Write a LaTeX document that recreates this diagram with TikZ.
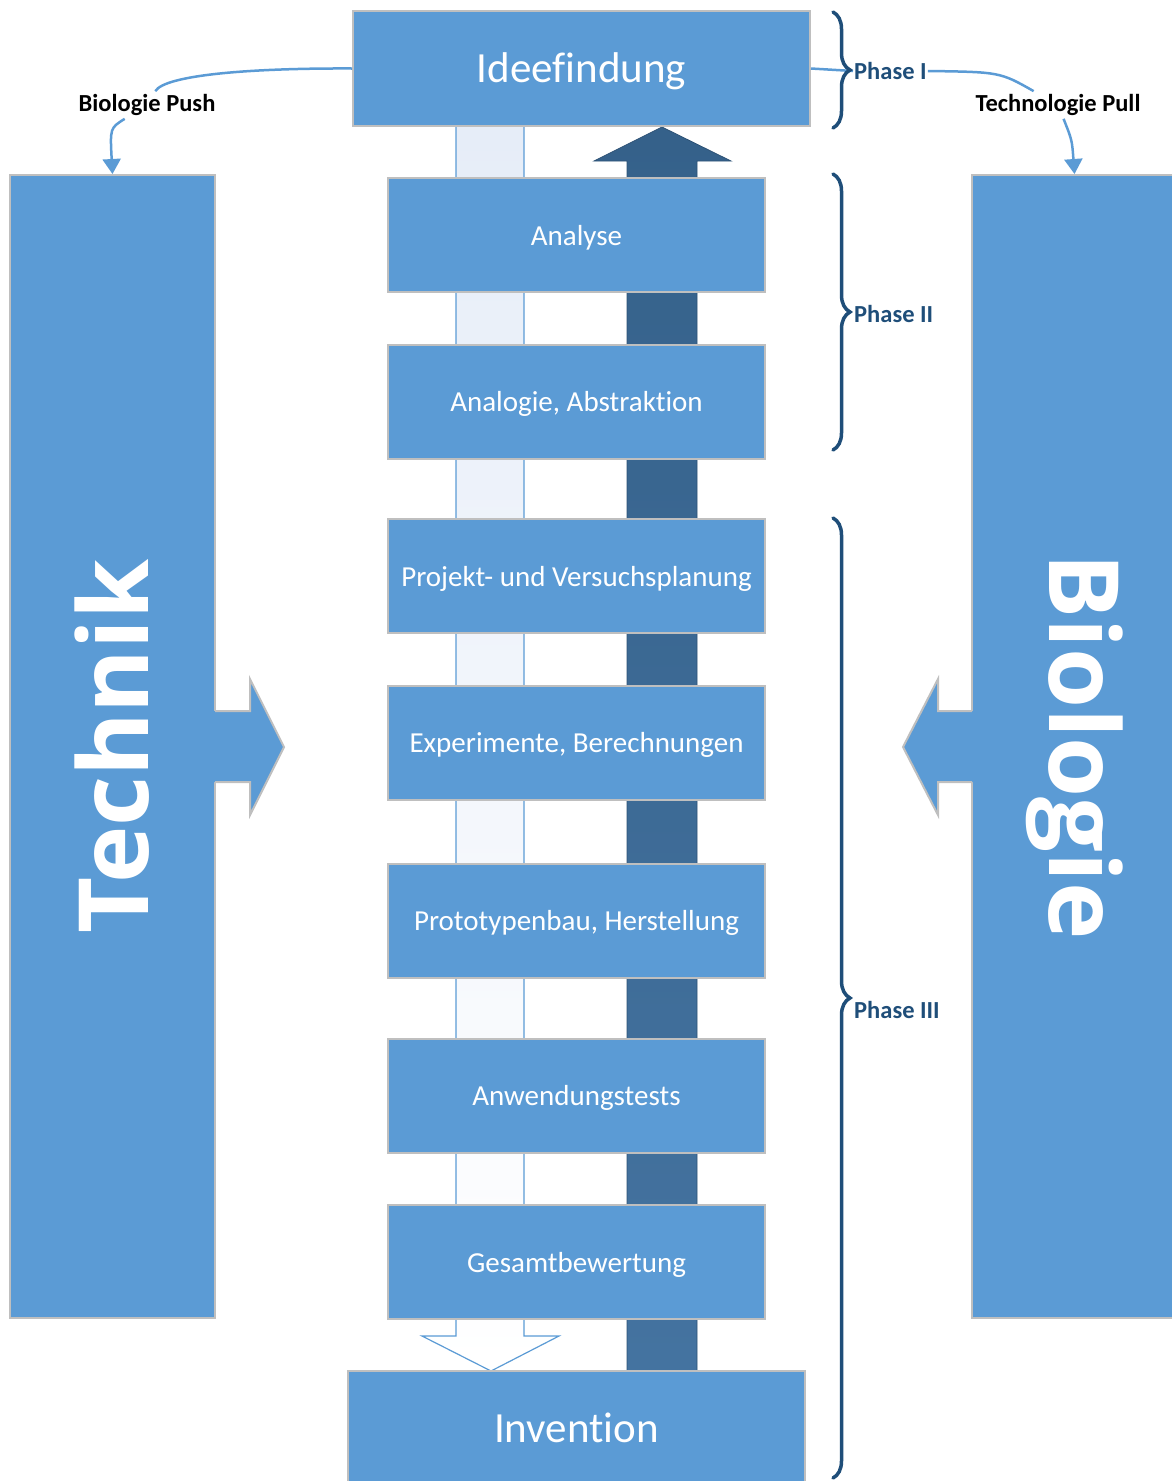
\documentclass[tikz,border=0pt]{standalone}
\usepackage{fontspec}
\setmainfont{Carlito}[Ligatures=NoCommon]
\newfontfamily\bigfont{Open Sans}
\usetikzlibrary{arrows.meta,decorations.pathreplacing}

\definecolor{boxblue}{HTML}{5B9BD5}
\definecolor{boxgray}{HTML}{BFBFBF}
\definecolor{phaseblue}{HTML}{1F4E79}
\definecolor{darktop}{HTML}{35618A}
\definecolor{darkbot}{HTML}{4473A0}
\definecolor{lighttop}{HTML}{E6EDF8}

\tikzset{
  basebox/.style={draw=boxgray,fill=boxblue,line width=2pt,text=white,inner sep=0pt},
  stepbox/.style={basebox,minimum width=377pt,minimum height=114pt,
    text height=26pt,text depth=6pt,font=\fontsize{29}{34}\selectfont},
  bigbox/.style={basebox,minimum width=457pt,minimum height=115pt,
    text height=37pt,text depth=9pt,font=\fontsize{43}{50}\selectfont},
  sidebox/.style={basebox,minimum width=205pt,minimum height=1143pt,
    font=\bigfont\bfseries\fontsize{97}{97}\selectfont},
  sidearrow/.style={fill=boxblue},
  conn/.style={draw=boxblue,line width=2.5pt},
  tip/.style={-{Triangle[width=18pt,length=15pt]}},
  pushpull/.style={font=\bfseries\fontsize{24.5}{28}\selectfont,inner sep=3pt},
  phase/.style={text=phaseblue,font=\bfseries\fontsize{24.5}{28}\selectfont,
    anchor=west,inner sep=1pt},
  phasebrace/.style={draw=phaseblue,line width=3.5pt,line cap=round,
    decorate,decoration={brace,amplitude=17pt}}
}

\begin{document}
\begin{tikzpicture}[x=1pt,y=-1pt]
  \useasboundingbox (0,0) rectangle (1172,1481);

  % the two long arrows behind the steps
  \draw[boxblue,line width=1.2pt,top color=lighttop,bottom color=white]
    (456,126) -- (456,1336) -- (422,1336) -- (491,1371) -- (559,1336)
    -- (524,1336) -- (524,126);
  \draw[darktop!85!black,line width=0.8pt,top color=darktop,bottom color=darkbot]
    (627,1371) -- (627,161) -- (594,161) -- (662,127) -- (731,161)
    -- (697,161) -- (697,1371) -- cycle;

  % steps
  \node[bigbox] (idee) at (581.5,68.5) {Ideefindung};
  \node[stepbox] (analyse) at (576.5,235) {Analyse};
  \node[stepbox] (analogie) at (576.5,401.5) {Analogie, Abstraktion};
  \node[stepbox] (planung) at (576.5,576) {Projekt- und Versuchsplanung};
  \node[stepbox] (experimente) at (576.5,742.5) {Experimente, Berechnungen};
  \node[stepbox] (prototyp) at (576.5,920.5) {Prototypenbau, Herstellung};
  \node[stepbox] (tests) at (576.5,1095.5) {Anwendungstests};
  \node[stepbox] (bewertung) at (576.5,1262) {Gesamtbewertung};
  \node[bigbox] (invention) at (576.5,1428.5) {Invention};

  % Technik and Biologie
  \node[sidebox] (technik) at (112.5,746.5) {\rotatebox{90}{Technik}};
  \node[sidebox] (biologie) at (1074.5,746.5) {\rotatebox{-90}{Biologie}};
  \fill[sidearrow] (213,711) -- (250,711) -- (250,679) -- (284,747)
    -- (250,815) -- (250,782) -- (213,782) -- cycle;
  \draw[boxgray,line width=2pt] (215,711) -- (250,711) -- (250,679)
    -- (284,747) -- (250,815) -- (250,782) -- (215,782);
  \fill[sidearrow] (974,711) -- (938,711) -- (938,679) -- (903,747)
    -- (938,815) -- (938,782) -- (974,782) -- cycle;
  \draw[boxgray,line width=2pt] (972,711) -- (938,711) -- (938,679)
    -- (903,747) -- (938,815) -- (938,782) -- (972,782);

  % phases
  \node[phase] (phaseI) at (853,71) {Phase I};
  \node[phase] (phaseII) at (853,314) {Phase II};
  \node[phase] (phaseIII) at (853,1010) {Phase III};
  \draw[conn] (idee.east) -- (phaseI.west);
  \draw[phasebrace] (833,12) -- (833,128);
  \draw[phasebrace] (833,174) -- (833,450);
  \draw[phasebrace] (833,518) -- (833,1478);

  % push and pull
  \node[pushpull] (push) at (147,105) {Biologie Push};
  \node[pushpull] (pull) at (1058,105) {Technologie Pull};
  \draw[conn] (idee.west) .. controls (250,68) and (165,75) .. (push);
  \draw[conn,tip] (push) .. controls (110,128) .. (technik.north);
  \draw[conn] (phaseI.east) .. controls (1000,72) .. (pull);
  \draw[conn,tip] (pull) .. controls (1072,140) .. (biologie.north);
\end{tikzpicture}
\end{document}
